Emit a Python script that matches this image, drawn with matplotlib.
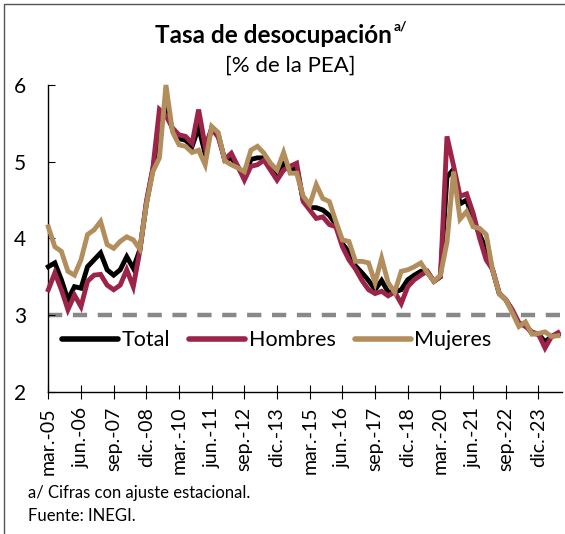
import matplotlib
matplotlib.use("Agg")
import matplotlib.pyplot as plt
from matplotlib.patches import Rectangle
import numpy as np

# quarterly series, 2005Q1 .. 2024Q3 (% de la PEA, seasonally adjusted)
total = [3.63, 3.68, 3.46, 3.20, 3.37, 3.35, 3.63, 3.72, 3.81, 3.59,
         3.52, 3.59, 3.76, 3.61, 3.85, 4.45, 4.90, 5.44, 5.74, 5.42,
         5.30, 5.28, 5.20, 5.45, 5.10, 5.44, 5.35, 5.02, 5.05, 4.93,
         4.80, 5.03, 5.05, 5.05, 4.92, 4.80, 4.97, 4.90, 4.92, 4.50,
         4.40, 4.40, 4.37, 4.30, 4.18, 3.93, 3.82, 3.64, 3.55, 3.45,
         3.33, 3.45, 3.30, 3.30, 3.33, 3.46, 3.52, 3.57, 3.56, 3.44,
         3.50, 4.80, 4.90, 4.45, 4.50, 4.25, 4.05, 3.85, 3.58, 3.28,
         3.20, 3.05, 2.88, 2.88, 2.76, 2.75, 2.65, 2.72, 2.75]
hombres = [3.33, 3.55, 3.33, 3.07, 3.26, 3.11, 3.44, 3.52, 3.53, 3.39,
           3.33, 3.39, 3.59, 3.37, 3.83, 4.48, 4.92, 5.68, 5.60, 5.44,
           5.35, 5.33, 5.24, 5.68, 5.20, 5.43, 5.32, 5.03, 5.11, 4.94,
           4.76, 4.94, 4.96, 5.02, 4.89, 4.76, 4.89, 4.94, 4.98, 4.48,
           4.37, 4.26, 4.28, 4.18, 4.15, 3.89, 3.72, 3.60, 3.45, 3.33,
           3.28, 3.31, 3.25, 3.30, 3.15, 3.37, 3.46, 3.52, 3.57, 3.44,
           3.50, 5.33, 4.95, 4.55, 4.58, 4.33, 4.00, 3.72, 3.59, 3.28,
           3.20, 3.07, 2.90, 2.85, 2.78, 2.75, 2.57, 2.72, 2.77]
mujeres = [4.15, 3.89, 3.83, 3.57, 3.52, 3.72, 4.05, 4.11, 4.22, 3.92,
           3.87, 3.96, 4.02, 3.98, 3.86, 4.44, 4.87, 5.05, 6.00, 5.39,
           5.22, 5.20, 5.12, 5.15, 4.96, 5.46, 5.38, 5.01, 4.96, 4.92,
           4.87, 5.15, 5.20, 5.11, 4.98, 4.89, 5.12, 4.85, 4.85, 4.55,
           4.44, 4.70, 4.52, 4.48, 4.22, 3.98, 3.96, 3.70, 3.70, 3.68,
           3.42, 3.74, 3.42, 3.30, 3.57, 3.59, 3.63, 3.68, 3.55, 3.44,
           3.52, 3.95, 4.87, 4.25, 4.35, 4.15, 4.13, 4.05, 3.58, 3.28,
           3.20, 3.03, 2.85, 2.91, 2.75, 2.76, 2.78, 2.72, 2.73]
tick_labels = ["mar.-05", "jun.-06", "sep.-07", "dic.-08", "mar.-10", "jun.-11",
               "sep.-12", "dic.-13", "mar.-15", "jun.-16", "sep.-17", "dic.-18",
               "mar.-20", "jun.-21", "sep.-22", "dic.-23"]
referencia = 3.0

plt.rcParams['font.family'] = ['Lato', 'DejaVu Sans']

fig = plt.figure(figsize=(5.65, 5.34), dpi=100)
ax = fig.add_axes([0.0855, 0.2665, 0.9092, 0.5743])

x = np.arange(len(total))
ax.axhline(referencia, color="#888888", lw=3.2, ls=(0, (3.2, 2.4)), zorder=1)
ax.plot(x, total, color="black", lw=3.5, label="Total", zorder=2,
        solid_joinstyle="miter", clip_on=False)
ax.plot(x, hombres, color="#9D2449", lw=3.5, label="Hombres", zorder=3,
        solid_joinstyle="miter", clip_on=False)
ax.plot(x, mujeres, color="#B38E5D", lw=3.5, label="Mujeres", zorder=4,
        solid_joinstyle="miter", clip_on=False)

ax.set_xlim(0, 78.6)
ax.set_ylim(2, 6)
ax.set_yticks([2, 3, 4, 5, 6])
ax.set_xticks(np.arange(0, len(tick_labels) * 5, 5))
ax.set_xticklabels(tick_labels, rotation=90, fontsize=14)
ax.tick_params(axis="y", direction="in", length=5, pad=16, labelsize=15)
ax.tick_params(axis="x", direction="inout", length=10, pad=6)
for s in ["top", "right"]:
    ax.spines[s].set_visible(False)
ax.spines["left"].set_linewidth(1.0)
ax.spines["bottom"].set_linewidth(1.0)

leg = ax.legend(loc="center", bbox_to_anchor=(0.445, 0.168), ncol=3, frameon=False,
                fontsize=15.5, handlelength=2.6, handletextpad=0.15,
                columnspacing=0.9, borderaxespad=0)
for h in leg.get_lines():
    h.set_linewidth(4)
    h.set_solid_capstyle("round")

title = fig.text(0.484, 0.933, "Tasa de desocupación", ha="center", va="center",
                 fontsize=17.5, fontweight="bold")
fig.canvas.draw()
bb = title.get_window_extent().transformed(fig.transFigure.inverted())
fig.text(bb.x1 + 0.003, 0.950, "a/", ha="left", va="center", fontsize=10,
         fontweight="bold")
fig.text(0.513, 0.877, "[% de la PEA]", ha="center", va="center", fontsize=16)
fig.text(0.05, 0.077, "a/ Cifras con ajuste estacional.", ha="left",
         va="center", fontsize=12)
fig.text(0.05, 0.034, "Fuente: INEGI.", ha="left", va="center", fontsize=12)

fig.add_artist(Rectangle((4 / 565, -0.05), 1.2, 1.05 - 4 / 534, fill=False,
                         edgecolor="#555555", lw=1.0,
                         transform=fig.transFigure))

fig.savefig("out.png", dpi=100)
